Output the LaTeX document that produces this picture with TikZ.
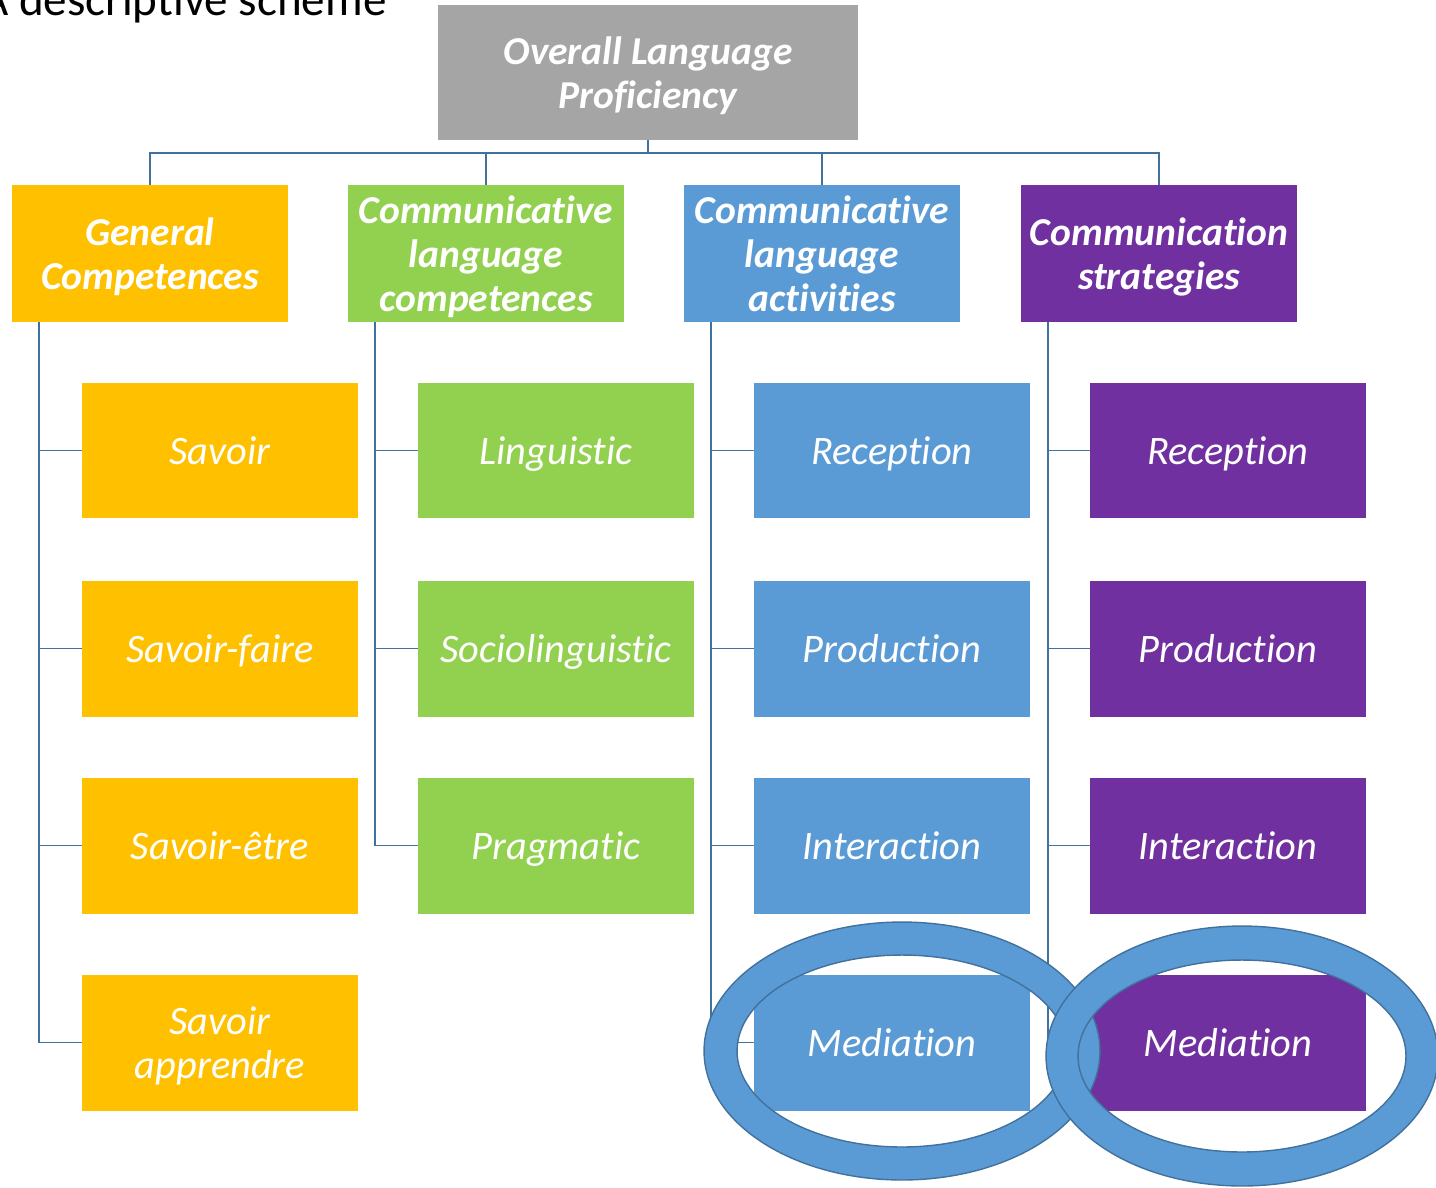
\documentclass[tikz,border=0pt]{standalone}
\usepackage{fontspec}
\setmainfont[Ligatures=NoCommon]{Carlito}
\definecolor{topgray}{HTML}{A5A5A5}
\definecolor{gold}{HTML}{FFC000}
\definecolor{leaf}{HTML}{92D050}
\definecolor{sky}{HTML}{5B9BD5}
\definecolor{plum}{HTML}{7030A0}
\definecolor{wire}{HTML}{41719C}
\begin{document}
\begin{tikzpicture}[x=0.02cm,y=-0.02cm,
    box/.style={minimum width=5.52cm,minimum height=2.72cm,inner sep=0,align=center,text=white,
        text depth=0pt,font=\itshape\fontsize{23}{25}\selectfont},
    head/.style={box,minimum height=2.74cm,font=\bfseries\itshape\fontsize{22.5}{25}\selectfont},
    link/.style={draw=wire,line width=1.1pt},
    ring/.style={fill=sky,draw=wire,line width=.8pt,even odd rule}]
\useasboundingbox (0,0) rectangle (1436,1187);
\node[anchor=base west,inner sep=0,font=\fontsize{26.8}{30}\selectfont] (title) at (-19,15) {A descriptive scheme};

% top and the four headers
\node[head,fill=topgray,minimum width=8.4cm,minimum height=2.7cm] (olp) at (648,72.5) {Overall Language\\Proficiency};
\node[head,fill=gold] (gc) at (150,253.5) {General\\Competences};
\node[head,fill=leaf] (clc) at (486,253.5) {Communicative\\language\\competences};
\node[head,fill=sky] (cla) at (822,253.5) {Communicative\\language\\activities};
\node[head,fill=plum] (cs) at (1159,253.5) {Communication\\strategies};

\coordinate (bus) at (648,153);
\foreach \h in {gc,clc,cla,cs}{
    \draw[link] (olp.south) -- (bus) -| (\h.north);
}

% children
\foreach \i/\y/\t in {1/450.5/Savoir, 2/648.5/Savoir-faire, 3/845.5/Savoir-être, 4/1042.5/{Savoir\\apprendre}}{
    \node[box,fill=gold] (gc\i) at (220,\y) {\t};
    \draw[link] ([xshift=0.54cm]gc.south west) |- (gc\i.west);
}
\foreach \i/\y/\t in {1/450.5/Linguistic, 2/648.5/Sociolinguistic, 3/845.5/Pragmatic}{
    \node[box,fill=leaf] (clc\i) at (556,\y) {\t};
    \draw[link] ([xshift=0.54cm]clc.south west) |- (clc\i.west);
}
\foreach \i/\y/\t in {1/450.5/Reception, 2/648.5/Production, 3/845.5/Interaction, 4/1042.5/Mediation}{
    \node[box,fill=sky] (cla\i) at (892,\y) {\t};
    \draw[link] ([xshift=0.54cm]cla.south west) |- (cla\i.west);
}
\foreach \i/\y/\t in {1/450.5/Reception, 2/648.5/Production, 3/845.5/Interaction, 4/1042.5/Mediation}{
    \node[box,fill=plum] (cs\i) at (1228,\y) {\t};
    \draw[link] ([xshift=0.54cm]cs.south west) |- (cs\i.west);
}

% rings round mediation
\path[ring] (902,1051) ellipse [x radius=3.96cm,y radius=2.58cm]
    (902,1051) ellipse [x radius=3.3cm,y radius=1.92cm];
\path[ring] (1242,1056) ellipse [x radius=3.92cm,y radius=2.6cm]
    (1242,1056) ellipse [x radius=3.28cm,y radius=1.92cm];
\end{tikzpicture}
\end{document}
